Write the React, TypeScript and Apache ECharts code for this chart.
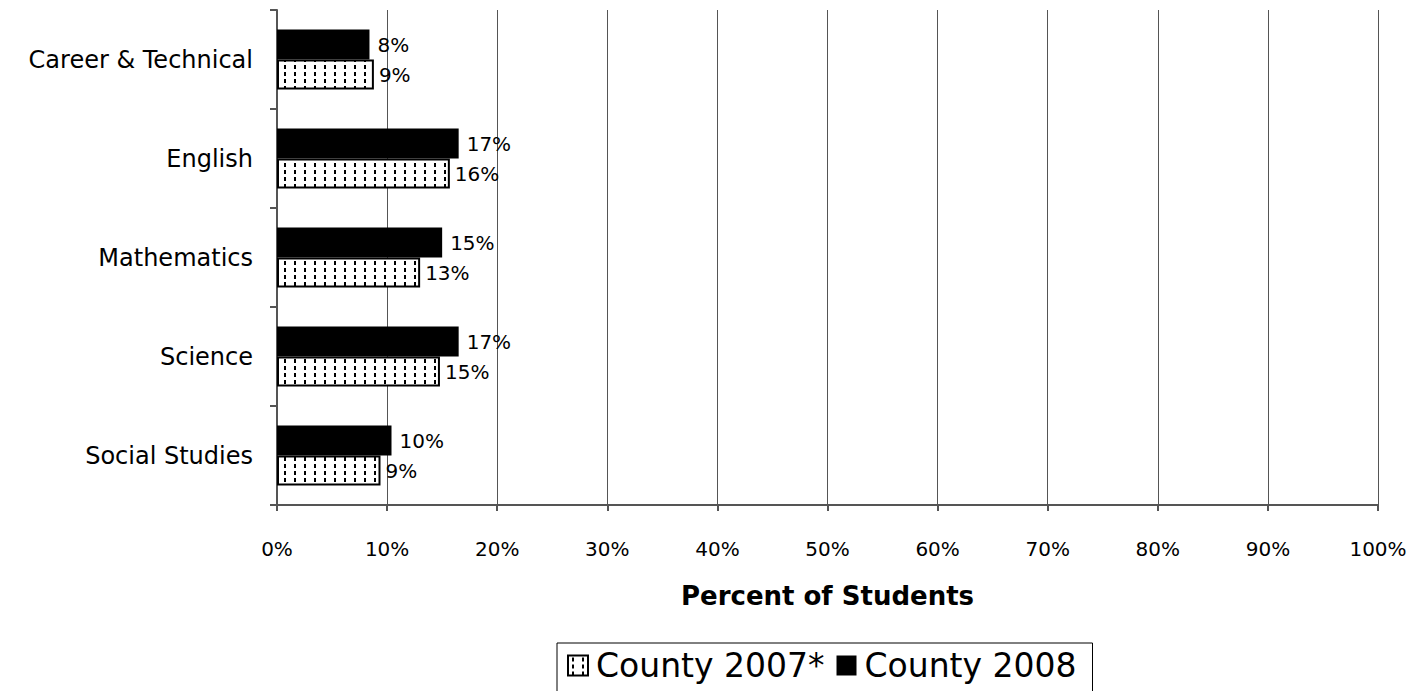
import React, { useEffect, useRef } from "react";
import * as echarts from "echarts";

const categories = ["Career & Technical", "English", "Mathematics", "Science", "Social Studies"];
const county2007 = [8.8, 15.7, 13.0, 14.8, 9.4];
const county2008 = [8.4, 16.5, 15.0, 16.5, 10.4];
const xTicks = [0, 10, 20, 30, 40, 50, 60, 70, 80, 90, 100];

const FONT = "DejaVu Sans";

function makePattern(): HTMLCanvasElement {
  const c = document.createElement("canvas");
  c.width = 10;
  c.height = 14;
  const ctx = c.getContext("2d")!;
  ctx.fillStyle = "#fff";
  ctx.fillRect(0, 0, 10, 14);
  ctx.fillStyle = "#000";
  ctx.fillRect(4, 2, 2, 4);
  ctx.fillRect(4, 9, 2, 4);
  return c;
}

export default function App() {
  const ref = useRef<HTMLDivElement>(null);
  useEffect(() => {
    if (!ref.current) return;
    const chart = echarts.init(ref.current, undefined, { renderer: "svg" });
    const pattern = { image: makePattern(), repeat: "repeat" } as any;
    chart.setOption({
      animation: false,
      textStyle: { fontFamily: FONT },
      grid: { left: 277, right: 48, top: 10, bottom: 186, containLabel: false },
      legend: {
        data: ["County 2007*", "County 2008"],
        icon: "rect",
        left: 557,
        top: 643,
        itemWidth: 20,
        itemHeight: 20,
        itemGap: 12,
        padding: [6, 16, 20, 10],
        borderColor: "#000",
        borderWidth: 1,
        textStyle: { fontSize: 33, color: "#000", fontFamily: FONT, padding: [0, 0, 0, 3] },
      },
      xAxis: {
        type: "value",
        min: 0,
        max: 100,
        interval: 10,
        name: "Percent of Students",
        nameLocation: "middle",
        nameGap: 78,
        nameTextStyle: { fontSize: 26, fontWeight: "bold", color: "#000", fontFamily: FONT },
        axisLine: { show: true, lineStyle: { color: "#555", width: 2 } },
        axisTick: { show: true, length: 6, lineStyle: { color: "#555", width: 2 } },
        axisLabel: {
          fontSize: 20,
          color: "#000",
          margin: 34,
          formatter: (v: number) => (xTicks.includes(v) ? v + "%" : ""),
        },
        splitLine: { show: true, lineStyle: { color: "#555", width: 1 } },
      },
      yAxis: {
        type: "category",
        data: categories,
        inverse: true,
        axisLine: { show: true, lineStyle: { color: "#555", width: 2 } },
        axisTick: { show: true, length: 7, lineStyle: { color: "#555", width: 2 } },
        axisLabel: { fontSize: 24, color: "#000", margin: 24 },
      },
      series: [
        {
          name: "County 2008",
          type: "bar",
          data: county2008,
          barWidth: 30,
          barGap: "0%",
          itemStyle: { color: "#000" },
          label: {
            show: true,
            position: "right",
            distance: 8,
            fontSize: 20,
            color: "#000",
            formatter: (p: any) => Math.round(p.value) + "%",
          },
        },
        {
          name: "County 2007*",
          type: "bar",
          data: county2007,
          barWidth: 30,
          barGap: "0%",
          itemStyle: { color: pattern, borderColor: "#000", borderWidth: 2 },
          label: {
            show: true,
            position: "right",
            distance: 5,
            fontSize: 20,
            color: "#000",
            formatter: (p: any) => Math.round(p.value) + "%",
          },
        },
      ],
    });
    return () => chart.dispose();
  }, []);
  return <div ref={ref} style={{ width: 1426, height: 691, position: "absolute", left: 0, top: 0 }} />;
}
